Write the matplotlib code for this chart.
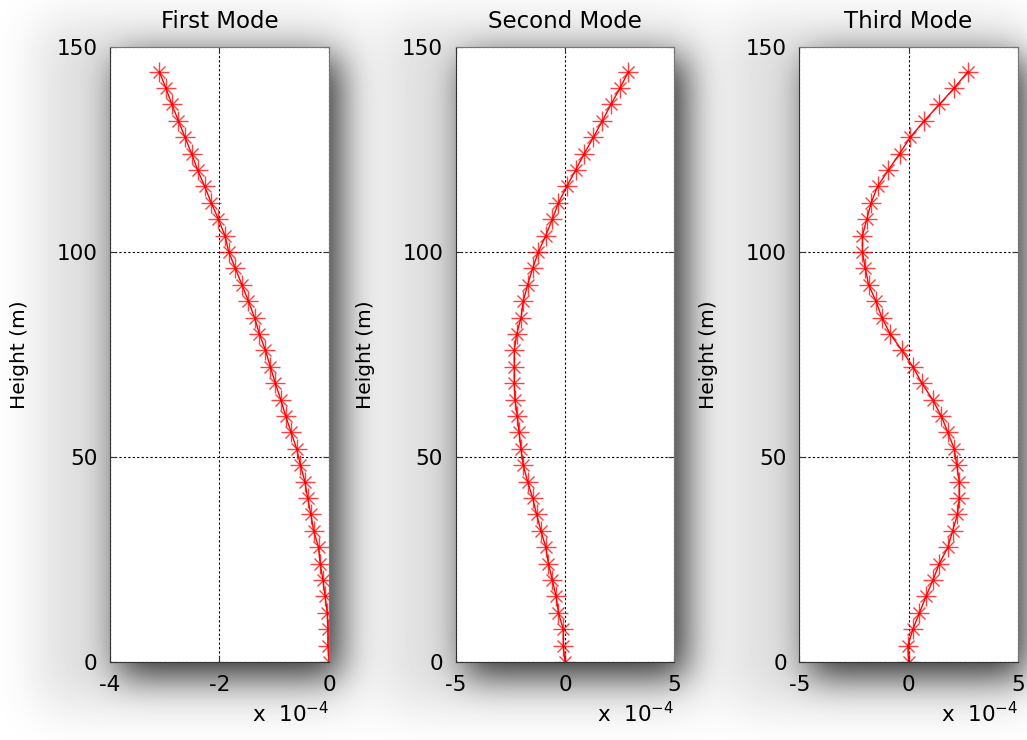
import numpy as np
import matplotlib.pyplot as plt

plt.rcParams['font.family'] = ['DejaVu Sans']
plt.rcParams['mathtext.fontset'] = 'dejavusans'
plt.rcParams['axes.unicode_minus'] = False

# mode shapes (x 1e-4) read at heights 0, 4, ..., 144 m
height = np.arange(0, 145, 4)
mode1 = [0.00, -0.02, -0.02, -0.03, -0.07, -0.11, -0.16, -0.19, -0.28, -0.33,
         -0.39, -0.44, -0.52, -0.59, -0.69, -0.79, -0.88, -0.98, -1.07, -1.16,
         -1.27, -1.36, -1.47, -1.59, -1.71, -1.83, -1.90, -2.02, -2.15, -2.27,
         -2.40, -2.51, -2.63, -2.75, -2.87, -2.98, -3.10]
mode2 = [0.00, -0.08, -0.08, -0.30, -0.41, -0.58, -0.76, -0.88, -1.10, -1.30,
         -1.48, -1.71, -1.91, -2.01, -2.10, -2.18, -2.29, -2.32, -2.32, -2.32,
         -2.21, -2.01, -1.91, -1.71, -1.48, -1.22, -0.88, -0.58, -0.30, 0.08,
         0.49, 0.88, 1.30, 1.71, 2.10, 2.52, 2.90]
mode3 = [0.00, -0.03, 0.20, 0.50, 0.80, 1.12, 1.41, 1.80, 2.02, 2.24,
         2.32, 2.32, 2.21, 2.09, 1.80, 1.50, 1.10, 0.61, 0.20, -0.30,
         -0.84, -1.22, -1.49, -1.83, -1.98, -2.11, -2.11, -1.91, -1.71, -1.42,
         -0.92, -0.41, 0.08, 0.72, 1.41, 2.09, 2.72]

modes = [mode1, mode2, mode3]
titles = ['First Mode', 'Second Mode', 'Third Mode']
xlims = [(-4, 0), (-5, 5), (-5, 5)]
xticks = [[-4, -2, 0], [-5, 0, 5], [-5, 0, 5]]
yticks = [0, 50, 100, 150]

W, H = 1027, 740
positions = [[0.1071, 0.1054, 0.2132, 0.8311],
             [0.4437, 0.1054, 0.2129, 0.8311],
             [0.7783, 0.1054, 0.2127, 0.8311]]


def blur(a, sigma):
    r = int(3 * sigma)
    k = np.exp(-0.5 * (np.arange(-r, r + 1) / sigma) ** 2)
    k /= k.sum()
    a = np.apply_along_axis(lambda v: np.convolve(v, k, mode='same'), 0, a)
    a = np.apply_along_axis(lambda v: np.convolve(v, k, mode='same'), 1, a)
    return a


# drop shadow behind the axes boxes
near = np.zeros((H, W))
wide = np.zeros((H, W))
for p in positions:
    x0 = int(p[0] * W)
    x1 = int((p[0] + p[2]) * W)
    y0 = int((1 - p[1] - p[3]) * H)
    y1 = int((1 - p[1]) * H)
    near[y0 + 12:y1 + 14, x0 + 10:x1 + 12] = 1
    wide[y0 - 25:y1 + 45, x0 - 70:x1 + 25] = 1
shade = 0.68 * blur(near, 18) + 0.13 * blur(wide, 25)
bg = np.clip(1 - shade, 0, 1)

fig = plt.figure(figsize=(10.27, 7.40), dpi=100)
bgax = fig.add_axes([0, 0, 1, 1], zorder=-1)
bgax.imshow(bg, cmap='gray', vmin=0, vmax=1, aspect='auto', interpolation='bilinear')
bgax.axis('off')

for i in range(3):
    ax = fig.add_axes(positions[i])
    ax.plot(modes[i], height, '-', color='red', lw=1)
    ax.plot(modes[i], height, '+', color='red', ms=15, mew=1, alpha=0.75)
    ax.plot(modes[i], height, 'x', color='red', ms=9, mew=1, alpha=0.75)
    ax.set_xlim(xlims[i])
    ax.set_ylim(0, 150)
    ax.set_xticks(xticks[i])
    ax.set_yticks(yticks)
    ax.grid(True, color='black', linestyle=(0, (2, 2)), lw=0.8)
    ax.tick_params(direction='in', length=4, labelsize=15.5, pad=9,
                   top=True, right=True, color='#333333')
    for s in ['left', 'bottom']:
        ax.spines[s].set_color('#333333')
    for s in ['top', 'right']:
        ax.spines[s].set_color('#777777')
    ax.set_title(titles[i], fontsize=16.5, pad=14)
    ax.set_ylabel('Height (m)', fontsize=14.5)
    ax.yaxis.set_label_coords(-0.37, 0.5)
    ax.text(1.0, -0.0976, r'x  $10^{-4}$', transform=ax.transAxes,
            ha='right', va='baseline', fontsize=15.5)

plt.savefig('out.png', dpi=100)
